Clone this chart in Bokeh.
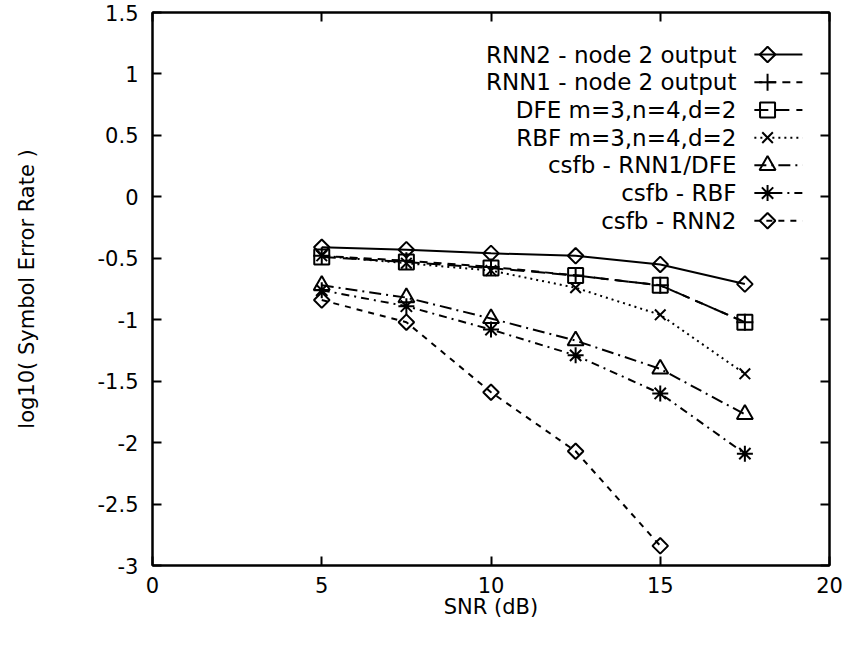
import math
from bokeh.plotting import figure
from bokeh.models import Label, LinearAxis, Range1d, FixedTicker
from bokeh.embed import file_html
from bokeh.resources import INLINE

# ---- data ----
snr = [5, 7.5, 10, 12.5, 15, 17.5]
snr_short = [5, 7.5, 10, 12.5, 15]

rnn2_node2 = [-0.41, -0.43, -0.46, -0.48, -0.55, -0.71]
rnn1_node2 = [-0.48, -0.52, -0.57, -0.64, -0.72, -1.02]
dfe = [-0.49, -0.53, -0.58, -0.64, -0.72, -1.02]
rbf = [-0.48, -0.54, -0.60, -0.74, -0.96, -1.44]
csfb_rnn1_dfe = [-0.72, -0.82, -0.99, -1.17, -1.40, -1.77]
csfb_rbf = [-0.76, -0.89, -1.08, -1.29, -1.60, -2.09]
csfb_rnn2 = [-0.84, -1.02, -1.59, -2.07, -2.84]

labels = ["RNN2 - node 2 output", "RNN1 - node 2 output", "DFE m=3,n=4,d=2",
          "RBF m=3,n=4,d=2", "csfb - RNN1/DFE", "csfb - RBF", "csfb - RNN2"]

x_ticks = [0, 5, 10, 15, 20]
y_ticks = [-3, -2.5, -2, -1.5, -1, -0.5, 0, 0.5, 1, 1.5]
y_tick_labels = {-3: "-3", -2.5: "-2.5", -2: "-2", -1.5: "-1.5", -1: "-1", -0.5: "-0.5",
                 0: "0", 0.5: "0.5", 1: "1", 1.5: "1.5"}

# ---- styles: (x, y, dash, marker, size, angle) ----
series = [
    (snr, rnn2_node2, "solid", "square", 11, math.pi / 4),
    (snr, rnn1_node2, "8 6", "cross", 17, 0),
    (snr, dfe, "14 7", "square", 15, 0),
    (snr, rbf, "2 4", "x", 15, 0),
    (snr, csfb_rnn1_dfe, "12 5 2 5", "triangle", 16, 0),
    (snr, csfb_rbf, "8 5 2 5", "asterisk", 16, 0),
    (snr_short, csfb_rnn2, "6 6", "square", 11, math.pi / 4),
]

FONT = "DejaVu Sans"

p = figure(width=843, height=633, x_range=Range1d(0, 20), y_range=Range1d(-3, 1.5),
           output_backend="svg", toolbar_location=None,
           min_border_left=152, min_border_right=14, min_border_top=12, min_border_bottom=68)

p.grid.visible = False
p.outline_line_color = "black"
p.outline_line_width = 2
p.background_fill_color = "white"
p.border_fill_color = "white"

for ax in (p.xaxis[0], p.yaxis[0]):
    ax.major_tick_in = 9
    ax.major_tick_out = 0
    ax.minor_tick_line_color = None
    ax.axis_line_width = 2
    ax.major_tick_line_width = 2
    ax.major_label_text_font = FONT
    ax.major_label_text_font_size = "21px"
    ax.major_label_text_color = "black"
    ax.axis_label_text_font = FONT
    ax.axis_label_text_font_size = "21px"
    ax.axis_label_text_font_style = "normal"
    ax.axis_label_text_color = "black"

p.xaxis.ticker = FixedTicker(ticks=x_ticks)
p.yaxis.ticker = FixedTicker(ticks=y_ticks)
p.yaxis.major_label_overrides = y_tick_labels
p.xaxis.axis_label = "SNR (dB)"
p.yaxis.axis_label = "log10( Symbol Error Rate )"
p.xaxis.major_label_standoff = 11
p.xaxis.axis_label_standoff = -1
p.yaxis.major_label_standoff = 14
p.yaxis.axis_label_standoff = 56

# mirror ticks on top and right
top = LinearAxis(ticker=FixedTicker(ticks=x_ticks), major_tick_in=9, major_tick_out=0,
                 minor_tick_line_color=None, major_label_text_font_size="0px",
                 axis_line_width=2, major_tick_line_width=2, major_label_standoff=0)
right = LinearAxis(ticker=FixedTicker(ticks=y_ticks), major_tick_in=9, major_tick_out=0,
                   minor_tick_line_color=None, major_label_text_font_size="0px",
                   axis_line_width=2, major_tick_line_width=2, major_label_standoff=0)
p.add_layout(top, "above")
p.add_layout(right, "right")


def marker(x, y, kind, size, angle):
    p.scatter(x, y, marker=kind, size=size, angle=angle, fill_color="white", fill_alpha=0.0,
              line_color="black", line_width=2)


for xs, ys, dash, kind, size, ang in series:
    p.line(xs, ys, line_color="black", line_width=2, line_dash=dash)
    marker(xs, ys, kind, size, ang)

# ---- hand-made key: text on the left, sample on the right ----
key_text_x = 17.25
key_x0, key_x1, key_mark = 17.78, 19.2, 18.17
key_top, key_step = 1.158, 0.2254
for i, (lab, (xs, ys, dash, kind, size, ang)) in enumerate(zip(labels, series)):
    yk = key_top - i * key_step
    p.add_layout(Label(x=key_text_x, y=yk, text=lab, text_align="right",
                       text_baseline="middle", text_font=FONT, text_font_size="23px",
                       text_color="black"))
    p.line([key_x0, key_x1], [yk, yk], line_color="black", line_width=2, line_dash=dash)
    marker([key_mark], [yk], kind, size, ang)

open("out.html", "w").write(file_html(p, INLINE))
